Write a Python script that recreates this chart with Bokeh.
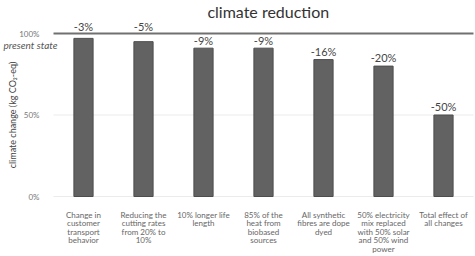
import numpy as np
from bokeh.plotting import figure
from bokeh.models import ColumnDataSource, Label, FixedTicker, LinearAxis, Range1d
from bokeh.core.properties import value
from bokeh.embed import file_html
from bokeh.resources import INLINE

categories = [
    "Change in\ncustomer\ntransport\nbehavior",
    "Reducing the\ncutting rates\nfrom 20% to\n10%",
    "10% longer life\nlength",
    "85% of the\nheat from\nbiobased\nsources",
    "All synthetic\nfibres are dope\ndyed",
    "50% electricity\nmix replaced\nwith 50% solar\nand 50% wind\npower",
    "Total effect of\nall changes",
]
values = [97, 95, 91, 91, 84, 80, 50]
reductions = ["-3%", "-5%", "-9%", "-9%", "-16%", "-20%", "-50%"]
y_ticks = [0, 50, 100]
y_tick_labels = {0: "0%", 50: "50%", 100: "100%"}
grid_values = [0, 50]
present_state = 100
present_state_label = "present state"
y_title = "climate change (kg CO\u2082-eq)"

FONT = "Lato"
n = len(categories)
xpos = np.arange(n)
vals = np.array(values, dtype=float)
label_y = np.where(vals + 5 > present_state - 3, present_state + 4, vals + 5)

src = ColumnDataSource(dict(x=xpos, val=values, lab=reductions, ly=label_y))

# frame covers the whole width; categories occupy [-0.5, n-0.5], 60px each
px_per_cat = 60.0
left_gap, right_gap = 53.0, 2.0
x_range = Range1d(-0.5 - left_gap / px_per_cat, n - 0.5 + right_gap / px_per_cat)
# frame is 200px tall; keep 100% at 33px from top, 0% a few px above the frame bottom
px_per_pct = (196 - 33) / 100.0
y_range = Range1d(-4 / px_per_pct, 100 + 33 / px_per_pct)

p = figure(x_range=x_range, y_range=y_range, width=475, height=256,
           output_backend="svg", toolbar_location=None, y_axis_location=None,
           min_border_left=0, min_border_right=0, min_border_top=0, min_border_bottom=56)
p.outline_line_color = None
p.background_fill_color = "white"
p.xgrid.grid_line_color = None
p.ygrid.grid_line_color = None

# horizontal guide lines across the category extent
p.segment(x0=[-0.5] * len(grid_values), x1=[n - 0.5] * len(grid_values),
          y0=grid_values, y1=grid_values, line_color="#ebebeb", line_width=1)
p.segment(x0=[-0.5], x1=[n - 0.5], y0=[present_state], y1=[present_state],
          line_color="#707070", line_width=2)

p.vbar(x="x", top="val", width=0.32, source=src,
       fill_color="#626262", line_color="#4d4d4d", line_width=1)

p.text(x="x", y="ly", text="lab", source=src, text_align="center",
       text_baseline="middle", text_font=value(FONT), text_font_size="11px",
       text_color="#444444")

yaxis = LinearAxis(fixed_location=-0.5, ticker=FixedTicker(ticks=y_ticks),
                   major_label_overrides=y_tick_labels,
                   axis_line_color=None, major_tick_line_color=None,
                   minor_tick_line_color=None,
                   major_label_text_font=FONT, major_label_text_font_size="8px",
                   major_label_text_color="#777777", major_label_standoff=8)
p.add_layout(yaxis, "left")

p.add_layout(Label(x=-0.5 - 41 / px_per_cat, y=50, text=y_title, angle=np.pi / 2,
                   text_font=FONT, text_font_size="9px", text_color="#444444",
                   text_align="center", text_baseline="middle"))

p.xaxis.ticker = FixedTicker(ticks=list(xpos))
p.xaxis.major_label_overrides = {int(i): c for i, c in zip(xpos, categories)}
p.xaxis.axis_line_color = None
p.xaxis.major_tick_line_color = None
p.xaxis.minor_tick_line_color = None
p.xaxis.major_label_text_font = FONT
p.xaxis.major_label_text_font_size = "8px"
p.xaxis.major_label_text_line_height = 0.85
p.xaxis.major_label_text_color = "#666666"
p.xaxis.major_label_standoff = 3

p.add_layout(Label(x=-0.5 - 50 / px_per_cat, y=present_state - 7.2, text=present_state_label,
                   text_font=FONT, text_font_style="italic", text_font_size="10px",
                   text_color="#555555", text_baseline="middle"))

p.add_layout(Label(x=3.08, y=present_state + 13.8, text="climate reduction",
                   text_font=FONT, text_font_size="16px",
                   text_color="#333333", text_align="center", text_baseline="middle"))

open("out.html", "w").write(file_html(p, INLINE))
